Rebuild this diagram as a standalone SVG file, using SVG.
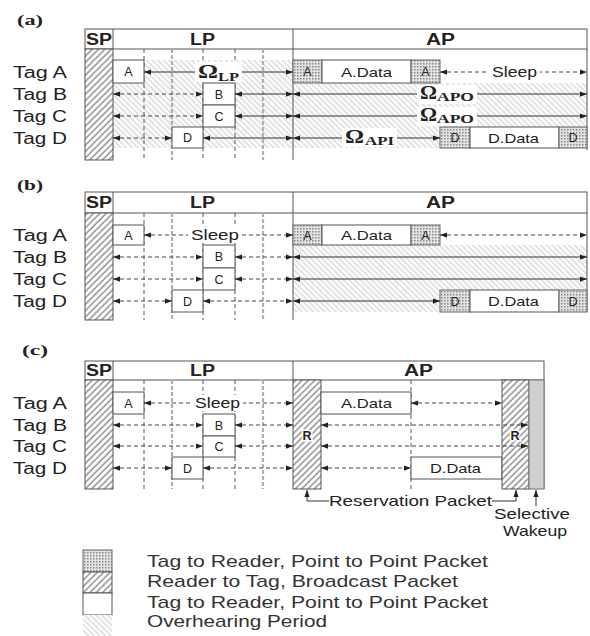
<svg xmlns="http://www.w3.org/2000/svg" width="590" height="636" viewBox="0 0 590 636">
<defs>
<pattern id="bc" width="4.5" height="4.5" patternUnits="userSpaceOnUse" patternTransform="rotate(45)"><rect width="4.5" height="4.5" fill="#fff"/><line x1="1" y1="0" x2="1" y2="4.5" stroke="#6a6a6a" stroke-width="1.1"/></pattern>
<pattern id="oh" width="4" height="4" patternUnits="userSpaceOnUse" patternTransform="rotate(-45)"><rect width="4" height="4" fill="#fff"/><line x1="1" y1="0" x2="1" y2="4" stroke="#c6c6c6" stroke-width="1"/></pattern>
<pattern id="xh" width="3" height="3" patternUnits="userSpaceOnUse"><rect width="3" height="3" fill="#e2e2e2"/><rect width="1.5" height="1.5" fill="#8a8a8a"/></pattern>
<marker id="ah" viewBox="0 0 8 6" refX="8" refY="3" markerWidth="7" markerHeight="5.5" markerUnits="userSpaceOnUse" orient="auto-start-reverse"><path d="M0,0L8,3L0,6z" fill="#222"/></marker>
</defs>
<style>
text{font-family:"Liberation Sans",Arial,sans-serif;fill:#222}
.pl{font-family:"Liberation Serif",serif;font-weight:bold;font-size:15px}
.tag{font-size:16px}
.hd{font-size:16px;font-weight:bold}
.bx{font-size:12.5px;text-anchor:middle}
.dt{font-size:13.5px}
.sl{font-size:15px}
.om{font-family:"Liberation Serif",serif;font-weight:bold;font-size:19px}
.sub{font-family:"Liberation Serif",serif;font-weight:bold;font-size:13px}
.lg{font-size:17px;fill:#333}
.frame{fill:#fff;stroke:#555;stroke-width:1}
.ln{stroke:#555;stroke-width:1;fill:none}
.box{fill:#fff;stroke:#555;stroke-width:1}
.xb{fill:url(#xh);stroke:#666;stroke-width:1}
.bcb{fill:url(#bc);stroke:#555;stroke-width:1}
.ohr{fill:url(#oh)}
.gry{fill:#cfcfcf;stroke:#777;stroke-width:1}
.vd{stroke:#555;stroke-width:1;stroke-dasharray:4 3}
.vg{stroke:#b0b0b0;stroke-width:2.2;stroke-dasharray:4 2}
.sol{stroke:#333;stroke-width:1;fill:none;marker-start:url(#ah);marker-end:url(#ah)}
.dsh{stroke:#444;stroke-width:1;stroke-dasharray:4 3;fill:none;marker-start:url(#ah);marker-end:url(#ah)}
.one{stroke:#333;stroke-width:1;fill:none;marker-end:url(#ah)}
.wb{fill:#fff}
</style>
<rect width="590" height="636" fill="#fff"/>

<!-- ================= Panel (a) ================= -->
<g id="panel-a">
<text class="pl" x="17" y="25" textLength="26" lengthAdjust="spacingAndGlyphs">(a)</text>
<rect class="ohr" x="113" y="60" width="180" height="88"/>
<rect class="ohr" x="293" y="83" width="294" height="65"/>
<g id="a-header">
<rect class="frame" x="85" y="29" width="502" height="20"/>
<line class="ln" x1="113" y1="29" x2="113" y2="49"/>
<line class="ln" x1="293" y1="29" x2="293" y2="160"/>
<line class="ln" x1="587" y1="49" x2="587" y2="150"/>
<text class="hd" x="86" y="45" textLength="26" lengthAdjust="spacingAndGlyphs">SP</text>
<text class="hd" x="190" y="45" textLength="25" lengthAdjust="spacingAndGlyphs">LP</text>
<text class="hd" x="426" y="45" textLength="29" lengthAdjust="spacingAndGlyphs">AP</text>
</g>
<rect id="a-sp" class="bcb" x="85" y="49" width="28" height="111"/>
<g id="a-grid">
<line class="vd" x1="144" y1="49" x2="144" y2="160"/>
<line class="vg" x1="172" y1="49" x2="172" y2="160"/>
<line class="vd" x1="203" y1="49" x2="203" y2="160"/>
<line class="vd" x1="235" y1="49" x2="235" y2="160"/>
<line class="vg" x1="263" y1="49" x2="263" y2="160"/>
</g>
<g id="a-tags">
<text class="tag" x="13" y="78" textLength="54" lengthAdjust="spacingAndGlyphs">Tag A</text>
<text class="tag" x="13" y="100" textLength="54" lengthAdjust="spacingAndGlyphs">Tag B</text>
<text class="tag" x="13" y="122" textLength="54" lengthAdjust="spacingAndGlyphs">Tag C</text>
<text class="tag" x="13" y="144" textLength="54" lengthAdjust="spacingAndGlyphs">Tag D</text>
</g>
<g id="a-boxA"><rect class="box" x="113" y="60" width="31" height="23"/><text class="bx" x="128.5" y="76">A</text></g>
<g id="a-boxB"><rect class="box" x="203" y="83" width="32" height="22"/><text class="bx" x="219" y="98.5">B</text></g>
<g id="a-boxC"><rect class="box" x="203" y="105" width="32" height="22"/><text class="bx" x="219" y="120.5">C</text></g>
<g id="a-boxD"><rect class="box" x="172" y="127" width="31" height="21"/><text class="bx" x="187.5" y="142">D</text></g>
<g id="a-A1"><rect class="xb" x="293" y="60" width="29" height="23"/><text class="bx" x="307.5" y="76">A</text></g>
<g id="a-Adata"><rect class="box" x="322" y="60" width="89" height="23"/><text class="dt" x="341" y="76.5" textLength="51" lengthAdjust="spacingAndGlyphs">A.Data</text></g>
<g id="a-A2"><rect class="xb" x="411" y="60" width="29" height="23"/><text class="bx" x="425.5" y="76">A</text></g>
<g id="a-D1"><rect class="xb" x="440" y="127" width="30" height="21"/><text class="bx" x="455" y="142">D</text></g>
<g id="a-Ddata"><rect class="box" x="470" y="127" width="89" height="21"/><text class="dt" x="488" y="142.5" textLength="51" lengthAdjust="spacingAndGlyphs">D.Data</text></g>
<g id="a-D2"><rect class="xb" x="559" y="127" width="28" height="21"/><text class="bx" x="573" y="142">D</text></g>
<g id="a-connectors">
<line class="sol" x1="144" y1="72" x2="293" y2="72"/>
<rect class="wb" x="195" y="62" width="47" height="20"/>
<text class="om" x="198" y="78" textLength="20" lengthAdjust="spacingAndGlyphs">Ω</text>
<text class="sub" x="218" y="81" textLength="21" lengthAdjust="spacingAndGlyphs">LP</text>
<line class="dsh" x1="440" y1="72" x2="587" y2="72"/>
<rect class="wb" x="489" y="63" width="51" height="17"/>
<text class="sl" x="492" y="77" textLength="45" lengthAdjust="spacingAndGlyphs">Sleep</text>
<line class="dsh" x1="113" y1="94" x2="203" y2="94"/>
<line class="sol" x1="235" y1="94" x2="293" y2="94"/>
<line class="sol" x1="293" y1="94" x2="587" y2="94"/>
<rect class="wb" x="417" y="85" width="60" height="19"/>
<text class="om" x="420" y="99" textLength="17" lengthAdjust="spacingAndGlyphs">Ω</text>
<text class="sub" x="437" y="101" textLength="37" lengthAdjust="spacingAndGlyphs">APO</text>
<line class="dsh" x1="113" y1="116" x2="203" y2="116"/>
<line class="sol" x1="235" y1="116" x2="293" y2="116"/>
<line class="sol" x1="293" y1="116" x2="587" y2="116"/>
<rect class="wb" x="417" y="107" width="60" height="19"/>
<text class="om" x="420" y="121" textLength="17" lengthAdjust="spacingAndGlyphs">Ω</text>
<text class="sub" x="437" y="123" textLength="37" lengthAdjust="spacingAndGlyphs">APO</text>
<line class="dsh" x1="113" y1="138" x2="172" y2="138"/>
<line class="sol" x1="203" y1="138" x2="293" y2="138"/>
<line class="sol" x1="293" y1="138" x2="440" y2="138"/>
<rect class="wb" x="342" y="128" width="55" height="19"/>
<text class="om" x="345" y="143" textLength="19" lengthAdjust="spacingAndGlyphs">Ω</text>
<text class="sub" x="365" y="145" textLength="29" lengthAdjust="spacingAndGlyphs">API</text>
</g>
</g>

<!-- ================= Panel (b) ================= -->
<g id="panel-b">
<text class="pl" x="17" y="190" textLength="26" lengthAdjust="spacingAndGlyphs">(b)</text>
<rect class="ohr" x="293" y="245" width="294" height="67"/>
<g id="b-header">
<rect class="frame" x="85" y="192" width="502" height="21"/>
<line class="ln" x1="113" y1="192" x2="113" y2="213"/>
<line class="ln" x1="293" y1="192" x2="293" y2="320"/>
<line class="ln" x1="587" y1="213" x2="587" y2="312"/>
<text class="hd" x="86" y="208" textLength="26" lengthAdjust="spacingAndGlyphs">SP</text>
<text class="hd" x="190" y="208" textLength="25" lengthAdjust="spacingAndGlyphs">LP</text>
<text class="hd" x="426" y="208" textLength="29" lengthAdjust="spacingAndGlyphs">AP</text>
</g>
<rect id="b-sp" class="bcb" x="85" y="213" width="28" height="107"/>
<g id="b-grid">
<line class="vd" x1="144" y1="213" x2="144" y2="320"/>
<line class="vg" x1="172" y1="213" x2="172" y2="320"/>
<line class="vd" x1="203" y1="213" x2="203" y2="320"/>
<line class="vd" x1="235" y1="213" x2="235" y2="320"/>
<line class="vg" x1="263" y1="213" x2="263" y2="320"/>
</g>
<g id="b-tags">
<text class="tag" x="13" y="241" textLength="54" lengthAdjust="spacingAndGlyphs">Tag A</text>
<text class="tag" x="13" y="263" textLength="54" lengthAdjust="spacingAndGlyphs">Tag B</text>
<text class="tag" x="13" y="285" textLength="54" lengthAdjust="spacingAndGlyphs">Tag C</text>
<text class="tag" x="13" y="307" textLength="54" lengthAdjust="spacingAndGlyphs">Tag D</text>
</g>
<g id="b-boxA"><rect class="box" x="113" y="225" width="31" height="20"/><text class="bx" x="128.5" y="239.5">A</text></g>
<g id="b-boxB"><rect class="box" x="203" y="245" width="32" height="23"/><text class="bx" x="219" y="261">B</text></g>
<g id="b-boxC"><rect class="box" x="203" y="268" width="32" height="22"/><text class="bx" x="219" y="283.5">C</text></g>
<g id="b-boxD"><rect class="box" x="172" y="290" width="31" height="22"/><text class="bx" x="187.5" y="305.5">D</text></g>
<g id="b-A1"><rect class="xb" x="293" y="225" width="29" height="20"/><text class="bx" x="307.5" y="239.5">A</text></g>
<g id="b-Adata"><rect class="box" x="322" y="225" width="89" height="20"/><text class="dt" x="341" y="240" textLength="51" lengthAdjust="spacingAndGlyphs">A.Data</text></g>
<g id="b-A2"><rect class="xb" x="411" y="225" width="29" height="20"/><text class="bx" x="425.5" y="239.5">A</text></g>
<g id="b-D1"><rect class="xb" x="440" y="290" width="30" height="22"/><text class="bx" x="455" y="305.5">D</text></g>
<g id="b-Ddata"><rect class="box" x="470" y="290" width="89" height="22"/><text class="dt" x="488" y="306" textLength="51" lengthAdjust="spacingAndGlyphs">D.Data</text></g>
<g id="b-D2"><rect class="xb" x="559" y="290" width="28" height="22"/><text class="bx" x="573" y="305.5">D</text></g>
<g id="b-connectors">
<line class="dsh" x1="144" y1="235" x2="293" y2="235"/>
<rect class="wb" x="188" y="227" width="54" height="16"/>
<text class="sl" x="191" y="240" textLength="48" lengthAdjust="spacingAndGlyphs">Sleep</text>
<line class="dsh" x1="440" y1="235" x2="587" y2="235"/>
<line class="dsh" x1="113" y1="257" x2="203" y2="257"/>
<line class="dsh" x1="235" y1="257" x2="293" y2="257"/>
<line class="sol" x1="293" y1="257" x2="587" y2="257"/>
<line class="dsh" x1="113" y1="279" x2="203" y2="279"/>
<line class="dsh" x1="235" y1="279" x2="293" y2="279"/>
<line class="sol" x1="293" y1="279" x2="587" y2="279"/>
<line class="dsh" x1="113" y1="301" x2="172" y2="301"/>
<line class="dsh" x1="203" y1="301" x2="293" y2="301"/>
<line class="sol" x1="293" y1="301" x2="440" y2="301"/>
</g>
</g>

<!-- ================= Panel (c) ================= -->
<g id="panel-c">
<text class="pl" x="22" y="355" textLength="26" lengthAdjust="spacingAndGlyphs">(c)</text>
<g id="c-header">
<rect class="frame" x="85" y="361" width="459" height="19"/>
<line class="ln" x1="113" y1="361" x2="113" y2="380"/>
<line class="ln" x1="293" y1="361" x2="293" y2="380"/>
<text class="hd" x="86" y="376" textLength="26" lengthAdjust="spacingAndGlyphs">SP</text>
<text class="hd" x="190" y="376" textLength="25" lengthAdjust="spacingAndGlyphs">LP</text>
<text class="hd" x="404" y="376" textLength="29" lengthAdjust="spacingAndGlyphs">AP</text>
</g>
<rect id="c-sp" class="bcb" x="85" y="380" width="28" height="109"/>
<g id="c-grid">
<line class="vd" x1="144" y1="380" x2="144" y2="489"/>
<line class="vg" x1="172" y1="380" x2="172" y2="489"/>
<line class="vd" x1="203" y1="380" x2="203" y2="489"/>
<line class="vd" x1="235" y1="380" x2="235" y2="489"/>
<line class="vg" x1="263" y1="380" x2="263" y2="489"/>
<line class="vd" x1="411" y1="380" x2="411" y2="489"/>
<line class="ln" x1="544" y1="380" x2="544" y2="489"/>
</g>
<g id="c-tags">
<text class="tag" x="13" y="409" textLength="54" lengthAdjust="spacingAndGlyphs">Tag A</text>
<text class="tag" x="13" y="431" textLength="54" lengthAdjust="spacingAndGlyphs">Tag B</text>
<text class="tag" x="13" y="452" textLength="54" lengthAdjust="spacingAndGlyphs">Tag C</text>
<text class="tag" x="13" y="474" textLength="54" lengthAdjust="spacingAndGlyphs">Tag D</text>
</g>
<g id="c-boxA"><rect class="box" x="113" y="392" width="31" height="22"/><text class="bx" x="128.5" y="407.5">A</text></g>
<g id="c-boxB"><rect class="box" x="203" y="414" width="32" height="22"/><text class="bx" x="219" y="429.5">B</text></g>
<g id="c-boxC"><rect class="box" x="203" y="436" width="32" height="21"/><text class="bx" x="219" y="451">C</text></g>
<g id="c-boxD"><rect class="box" x="172" y="457" width="31" height="22"/><text class="bx" x="187.5" y="472.5">D</text></g>
<g id="c-R1"><rect class="bcb" x="293" y="380" width="28" height="109"/><text class="bx" x="307" y="440" style="font-weight:bold;stroke:#fff;stroke-width:3;paint-order:stroke">R</text></g>
<g id="c-Adata"><rect class="box" x="321" y="392" width="90" height="22"/><text class="dt" x="341" y="408" textLength="51" lengthAdjust="spacingAndGlyphs">A.Data</text></g>
<g id="c-Ddata"><rect class="box" x="411" y="457" width="91" height="22"/><text class="dt" x="430" y="473" textLength="51" lengthAdjust="spacingAndGlyphs">D.Data</text></g>
<g id="c-R2"><rect class="bcb" x="502" y="380" width="27" height="109"/><text class="bx" x="515" y="440" style="font-weight:bold;stroke:#fff;stroke-width:3;paint-order:stroke">R</text></g>
<g id="c-wake"><rect class="gry" x="529" y="380" width="15" height="109"/></g>
<g id="c-connectors">
<line class="dsh" x1="144" y1="403" x2="293" y2="403"/>
<rect class="wb" x="193" y="395" width="50" height="16"/>
<text class="sl" x="195" y="408" textLength="45" lengthAdjust="spacingAndGlyphs">Sleep</text>
<line class="dsh" x1="411" y1="403" x2="502" y2="403"/>
<line class="dsh" x1="113" y1="425" x2="203" y2="425"/>
<line class="dsh" x1="235" y1="425" x2="293" y2="425"/>
<line class="dsh" x1="321" y1="425" x2="528" y2="425"/>
<line class="dsh" x1="113" y1="446" x2="203" y2="446"/>
<line class="dsh" x1="235" y1="446" x2="293" y2="446"/>
<line class="dsh" x1="321" y1="446" x2="528" y2="446"/>
<line class="dsh" x1="113" y1="468" x2="172" y2="468"/>
<line class="dsh" x1="203" y1="468" x2="293" y2="468"/>
<line class="dsh" x1="321" y1="468" x2="411" y2="468"/>
<polyline class="one" points="329,501 307,501 307,490"/>
<polyline class="one" points="492,501 516,501 516,490"/>
<line class="one" x1="536" y1="506" x2="536" y2="490"/>
</g>
<text class="sl" x="329" y="506" textLength="163" lengthAdjust="spacingAndGlyphs">Reservation Packet</text>
<text class="sl" x="494" y="519" textLength="76" lengthAdjust="spacingAndGlyphs">Selective</text>
<text class="sl" x="503" y="536" textLength="64" lengthAdjust="spacingAndGlyphs">Wakeup</text>
</g>

<!-- ================= Legend ================= -->
<g id="legend">
<g id="leg-1"><rect class="xb" x="83" y="550" width="29" height="22"/><text class="lg" x="147" y="567" textLength="341" lengthAdjust="spacingAndGlyphs">Tag to Reader, Point to Point Packet</text></g>
<g id="leg-2"><rect class="bcb" x="83" y="572" width="29" height="21"/><text class="lg" x="147" y="587" textLength="311" lengthAdjust="spacingAndGlyphs">Reader to Tag, Broadcast Packet</text></g>
<g id="leg-3"><rect class="box" x="83" y="593" width="29" height="22"/><text class="lg" x="147" y="608" textLength="341" lengthAdjust="spacingAndGlyphs">Tag to Reader, Point to Point Packet</text></g>
<g id="leg-4"><rect class="ohr" x="83" y="615" width="29" height="21"/><text class="lg" x="147" y="627" textLength="180" lengthAdjust="spacingAndGlyphs">Overhearing Period</text></g>
</g>
</svg>
